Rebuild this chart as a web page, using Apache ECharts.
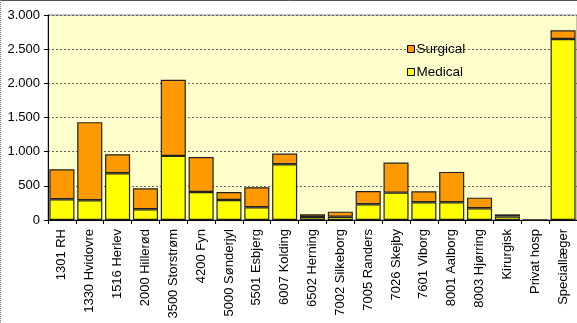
<!DOCTYPE html>
<html><head><meta charset="utf-8">
<script src="https://cdn.jsdelivr.net/npm/echarts@6/dist/echarts.min.js"></script>
<style>html,body{margin:0;padding:0;background:#fff}#c{width:577px;height:323px}</style>
</head><body><div id="c"></div>
<script>
const categories = ["1301 RH","1330 Hvidovre","1516 Herlev","2000 Hillerød","3500 Storstrøm","4200 Fyn","5000 Sønderjyl","5501 Esbjerg","6007 Kolding","6502 Herning","7002 Silkeborg","7005 Randers","7026 Skejby","7601 Viborg","8001 Aalborg","8003 Hjørring","Kirurgisk","Privat hosp","Speciallæger"];
const medical = [303,289,684,157,938,410,293,186,816,44,48,230,400,259,259,171,49,0,2649];
const surgical = [440,1143,279,307,1114,513,117,293,156,39,74,195,440,161,445,156,34,0,126];
const yTicks = [0,500,1000,1500,2000,2500,3000];
const font = "'Liberation Sans', Arial, sans-serif";
const chart = echarts.init(document.getElementById('c'));
chart.setOption({
  animation:false,
  backgroundColor:'#fff',
  grid:{left:48,top:15,width:532,bottom:103,show:true,backgroundColor:'#FFFFCC',borderColor:'#888',borderWidth:1},
  legend:{orient:'vertical',left:402,top:37,itemWidth:7,itemHeight:7,itemGap:9,icon:'rect',
    itemStyle:{borderColor:'#000',borderWidth:1},
    textStyle:{fontFamily:font,fontSize:13.5,color:'#000',padding:[0,0,0,-3]},
    data:['Surgical','Medical']},
  xAxis:{type:'category',data:categories,
    axisLine:{lineStyle:{color:'#000'}},
    axisTick:{show:true,length:4,lineStyle:{color:'#000'}},
    axisLabel:{rotate:90,interval:0,fontFamily:font,fontSize:13,color:'#000',margin:9}},
  yAxis:{type:'value',min:yTicks[0],max:yTicks[yTicks.length-1],interval:500,
    axisLine:{show:true,lineStyle:{color:'#000'}},
    axisTick:{show:true,length:4,lineStyle:{color:'#000'}},
    splitLine:{lineStyle:{color:'#666',type:[2,2]}},
    axisLabel:{fontFamily:font,fontSize:13,color:'#000',margin:8,
      formatter:v=>v.toString().replace(/\B(?=(\d{3})+(?!\d))/g,'.')}},
  series:[
    {name:'Medical',type:'bar',stack:'s',data:medical,barCategoryGap:'10%',
     itemStyle:{color:'#FFFF00',borderColor:'#222',borderWidth:1.2}},
    {name:'Surgical',type:'bar',stack:'s',data:surgical,
     itemStyle:{color:'#FF9900',borderColor:'#222',borderWidth:1.2}}
  ],
  graphic:[
    {type:'line',shape:{x1:0,y1:0.5,x2:577,y2:0.5},style:{stroke:'#555',lineWidth:1}},
    {type:'line',shape:{x1:0.5,y1:0,x2:0.5,y2:323},style:{stroke:'#777',lineWidth:1,lineDash:[1,1]}}
  ]
});
</script></body></html>
